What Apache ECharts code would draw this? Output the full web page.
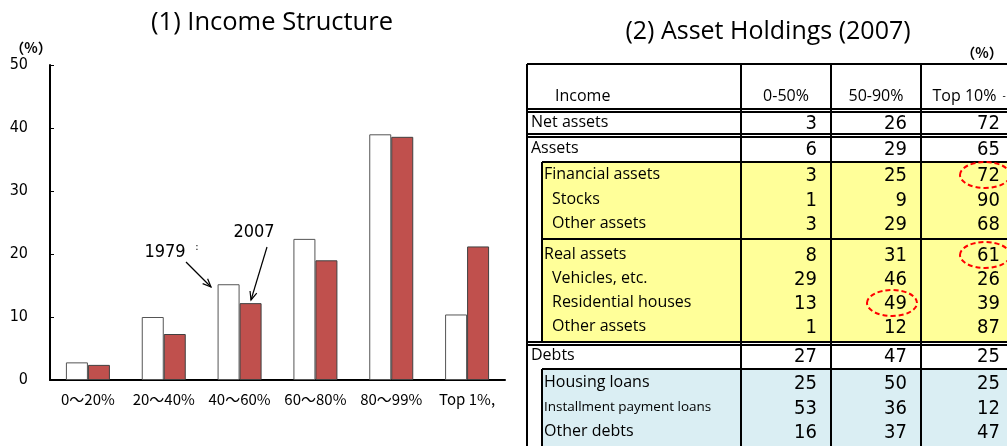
<!DOCTYPE html>
<html>
<head>
<meta charset="utf-8">
<script src="https://cdn.jsdelivr.net/npm/echarts@6/dist/echarts.min.js"></script>
<style>
  html, body { margin: 0; padding: 0; background: #fff; }
  #chart { width: 1007px; height: 446px; }
</style>
</head>
<body>
<div id="chart"></div>
<script>
// (1) Income Structure
var incomeGroups = ['0～20%', '20～40%', '40～60%', '60～80%', '80～99%', 'Top 1%,']
var share1979 = [2.8, 10.0, 15.2, 22.4, 39.0, 10.4]
var share2007 = [2.4, 7.3, 12.2, 19.0, 38.6, 21.2]
var yTicks = [0, 10, 20, 30, 40, 50]

// (2) Asset Holdings (2007)
var tableCols = ['0-50%', '50-90%', 'Top 10%']
var tableRows = ['Net assets', 'Assets', 'Financial assets', 'Stocks', 'Other assets',
  'Real assets', 'Vehicles, etc.', 'Residential houses', 'Other assets',
  'Debts', 'Housing loans', 'Installment payment loans', 'Other debts']
var bottom50 = [3, 6, 3, 1, 3, 8, 29, 13, 1, 27, 25, 53, 16]
var middle40 = [26, 29, 25, 9, 29, 31, 46, 49, 12, 47, 50, 36, 37]
var top10 = [72, 65, 72, 90, 68, 61, 26, 39, 87, 25, 25, 12, 47]
var circled = [[2, 2], [5, 2], [7, 1]] // [row, col]

var TEXT_FONT = '"Open Sans", "Noto Sans", sans-serif'
var NUM_FONT = '"Liberation Sans Narrow", "DejaVu Sans Condensed", sans-serif'
var CJK_FONT = '"Noto Sans CJK JP", sans-serif'

// table layout (px)
var tblLeft = 527, subLeft = 542, tblRight = 1007, tblTop = 64, tblBottom = 446
var colEdges = [741, 831, 921, 1014]
var rowMid = [123, 149, 175, 200, 224, 255, 279, 303, 327, 356, 383, 408, 432]
var rowIndent = [531, 531, 544, 552, 552, 544, 552, 552, 552, 531, 544, 544, 544]

var chart = echarts.init(document.getElementById('chart'))
var g = []

function hline(y, x1, x2, w) {
  g.push({ type: 'line', silent: true, shape: { x1: x1, y1: y, x2: x2, y2: y }, style: { stroke: '#000', lineWidth: w || 2 } })
}
function vline(x, y1, y2, w) {
  g.push({ type: 'line', silent: true, shape: { x1: x, y1: y1, x2: x, y2: y2 }, style: { stroke: '#000', lineWidth: w || 2 } })
}
function label(txt, x, y, size, font, align, weight) {
  g.push({ type: 'text', silent: true, x: x, y: y,
    style: { text: txt, fontSize: size, fontFamily: font, fontWeight: weight || 'normal', fill: '#000', align: align || 'left', verticalAlign: 'middle' } })
}
function arrow(x1, y1, x2, y2) {
  g.push({ type: 'line', silent: true, shape: { x1: x1, y1: y1, x2: x2, y2: y2 }, style: { stroke: '#000', lineWidth: 1.2 } })
  var a = Math.atan2(y2 - y1, x2 - x1), L = 9, s = 0.4
  g.push({ type: 'polyline', silent: true,
    shape: { points: [[x2 - L * Math.cos(a - s), y2 - L * Math.sin(a - s)], [x2, y2], [x2 - L * Math.cos(a + s), y2 - L * Math.sin(a + s)]] },
    style: { stroke: '#000', lineWidth: 1.2, fill: null } })
}

// chart annotations
label('（%）', 31, 48, 14, CJK_FONT, 'center', 'bold')
label('1979', 165, 252, 18, NUM_FONT, 'center')
label(':', 197, 247, 11, NUM_FONT, 'center')
label('2007', 254, 232, 18, NUM_FONT, 'center')
arrow(186, 262, 211, 287)
arrow(267, 247, 251, 300)

// table fills
g.push({ type: 'rect', silent: true, shape: { x: subLeft, y: 162, width: tblRight - subLeft, height: 342 - 162 }, style: { fill: '#FFFF99' } })
g.push({ type: 'rect', silent: true, shape: { x: subLeft, y: 369, width: tblRight - subLeft, height: tblBottom - 369 }, style: { fill: '#DAEEF3' } })

// table rules
hline(tblTop, tblLeft, tblRight)
hline(109, tblLeft, tblRight)
hline(112, tblLeft, tblRight)
hline(134, tblLeft, tblRight)
hline(137, tblLeft, tblRight)
hline(162, subLeft, tblRight)
hline(239, subLeft, tblRight)
hline(342, tblLeft, tblRight)
hline(345, tblLeft, tblRight)
hline(369, subLeft, tblRight)
vline(tblLeft, tblTop, tblBottom)
vline(subLeft, 162, 342)
vline(subLeft, 369, tblBottom)
for (var c = 0; c < 3; c++) vline(colEdges[c], tblTop, tblBottom)

// table header
label('Income', 555, 96, 16, TEXT_FONT)
tableCols.forEach(function (t, i) {
  label(t, (colEdges[i] + colEdges[i + 1]) / 2 - (i === 2 ? 3 : 0), 96, 16, TEXT_FONT, 'center')
})
label('-', 1004, 96, 10, TEXT_FONT, 'center')
label('（%）', 982, 53, 14, CJK_FONT, 'center', 'bold')

// table body
var colValues = [bottom50, middle40, top10]
tableRows.forEach(function (name, r) {
  label(name, rowIndent[r], rowMid[r] - 1, name.length > 20 ? 13.5 : 16, TEXT_FONT)
  colValues.forEach(function (vals, c) {
    label(String(vals[r]), colEdges[c + 1] - 14, rowMid[r] + 1, 20, NUM_FONT, 'right')
  })
})
circled.forEach(function (rc) {
  g.push({ type: 'ellipse', silent: true,
    shape: { cx: colEdges[rc[1] + 1] - 29, cy: rowMid[rc[0]], rx: 25, ry: 13 },
    style: { fill: null, stroke: '#FF0000', lineWidth: 2, lineDash: [5, 3] } })
})

var option = {
  animation: false,
  title: [
    { text: '(1) Income Structure', left: 267, top: 5, textAlign: 'center',
      textStyle: { fontFamily: TEXT_FONT, fontSize: 25.5, fontWeight: 'normal', color: '#000' } },
    { text: '(2) Asset Holdings (2007)', left: 763, top: 14, textAlign: 'center',
      textStyle: { fontFamily: TEXT_FONT, fontSize: 25, fontWeight: 'normal', color: '#000' } }
  ],
  grid: { left: 50, right: 502, top: 65, bottom: 66 },
  xAxis: {
    type: 'category',
    data: incomeGroups,
    axisLine: { lineStyle: { color: '#000', width: 2 } },
    axisTick: { show: false },
    axisLabel: { color: '#000', fontSize: 15, fontFamily: CJK_FONT, margin: 12, interval: 0 }
  },
  yAxis: {
    type: 'value',
    min: yTicks[0],
    max: yTicks[yTicks.length - 1],
    interval: yTicks[1] - yTicks[0],
    axisLine: { show: true, lineStyle: { color: '#000', width: 2 } },
    axisTick: { show: true, inside: true, length: 4, lineStyle: { color: '#000' } },
    axisLabel: { color: '#000', fontSize: 16, fontFamily: NUM_FONT, margin: 22 },
    splitLine: { show: false }
  },
  series: [
    {
      name: '1979', type: 'bar', data: share1979, barWidth: 22, barGap: '0%',
      itemStyle: { color: '#fff', borderColor: '#555', borderWidth: 1 }
    },
    {
      name: '2007', type: 'bar', data: share2007, barWidth: 22,
      itemStyle: { color: '#C0504D', borderColor: '#404040', borderWidth: 1 }
    }
  ],
  graphic: { elements: g }
}
chart.setOption(option)
</script>
</body>
</html>
